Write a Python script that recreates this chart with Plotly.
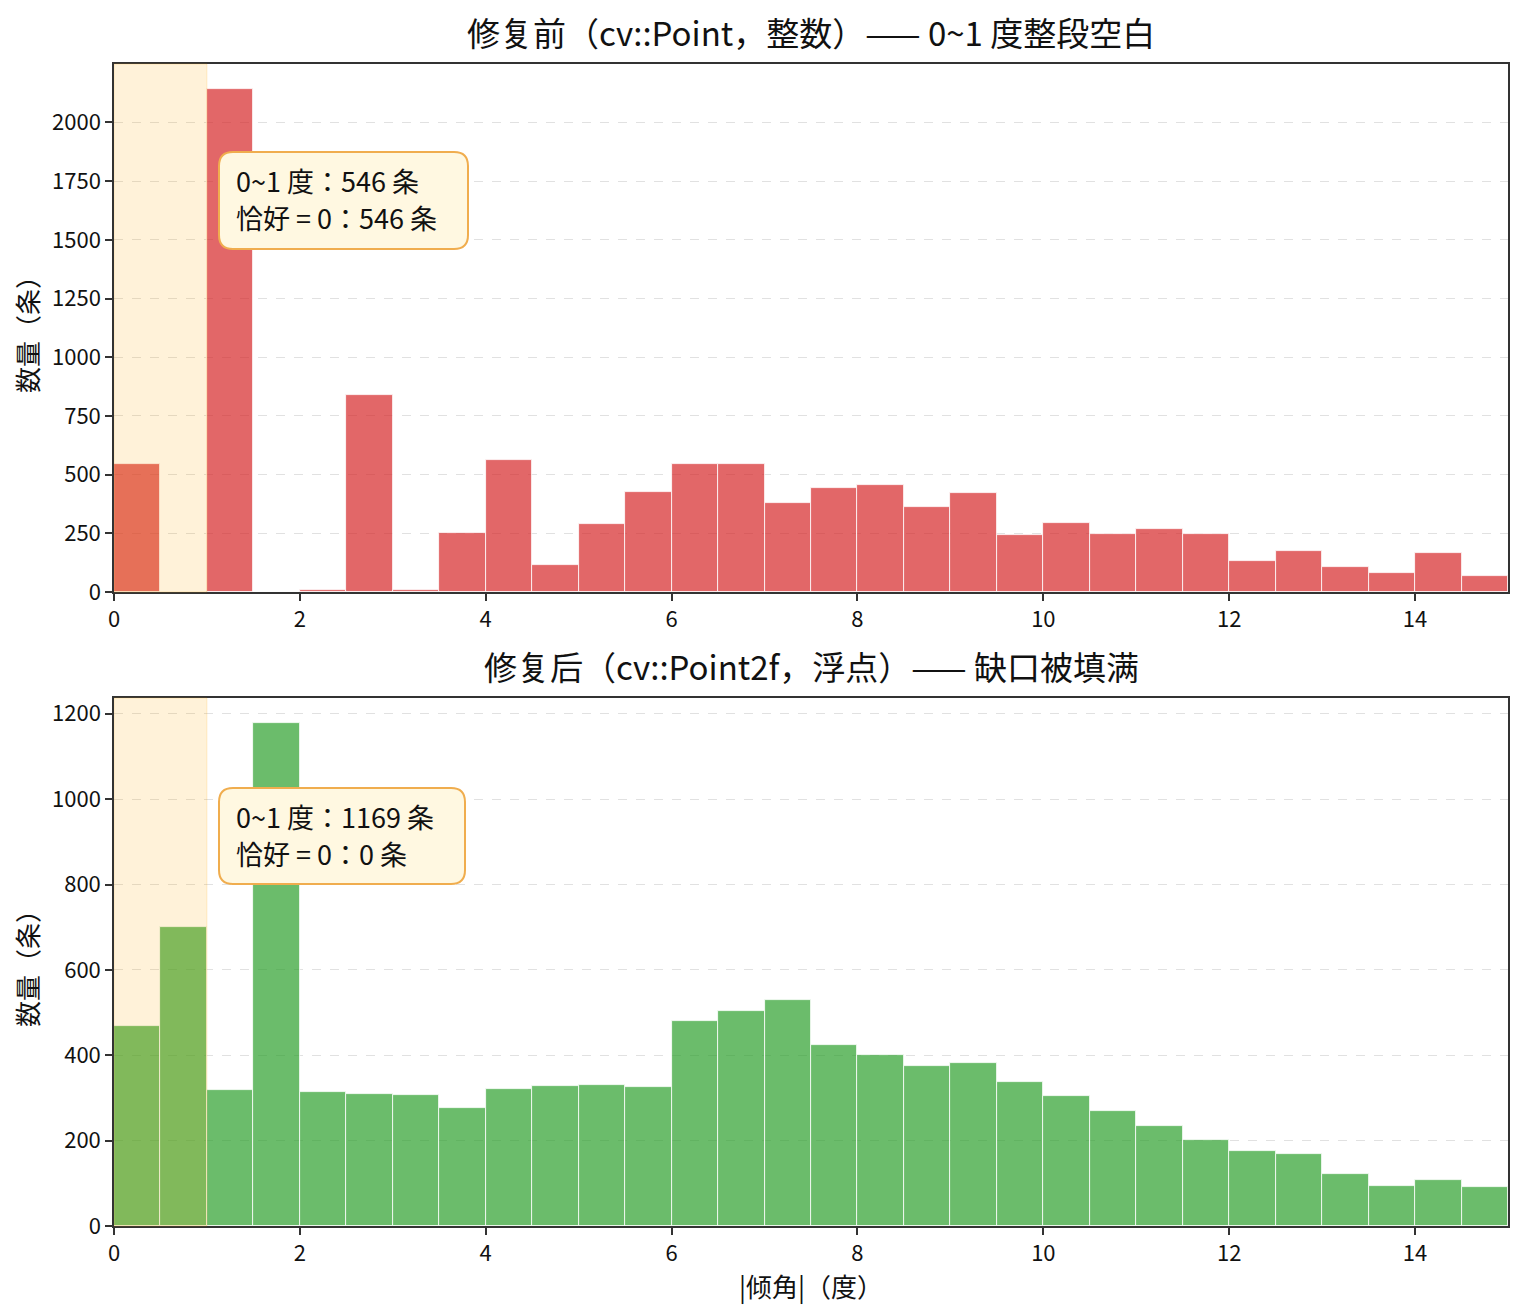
import numpy as np
import plotly.graph_objects as go
from plotly.subplots import make_subplots

# bins of 0.5 degree, 0 .. 15
bin_edges = np.arange(0, 15.5, 0.5)

before_counts = [546, 0, 2142, 0, 9, 840, 9, 251, 562, 114,
                 288, 425, 547, 547, 378, 442, 454, 361, 420, 242,
                 293, 246, 268, 246, 131, 174, 106, 80, 165, 68]
after_counts = [468, 701, 319, 1178, 313, 310, 308, 276, 322, 327,
                330, 325, 480, 504, 530, 424, 401, 375, 382, 337,
                304, 269, 234, 201, 175, 168, 121, 93, 107, 91]

titles = ["修复前（cv::Point，整数）—— 0~1 度整段空白",
          "修复后（cv::Point2f，浮点）—— 缺口被填满"]
notes = [["0~1 度：546 条", "恰好 = 0：546 条"],
         ["0~1 度：1169 条", "恰好 = 0：0 条"]]
x_ticks = [0, 2, 4, 6, 8, 10, 12, 14]
y_ticks_before = [0, 250, 500, 750, 1000, 1250, 1500, 1750, 2000]
y_ticks_after = [0, 200, 400, 600, 800, 1000, 1200]

FONT = "Noto Sans CJK JP"
W, H = 1522, 1316
# the page body has an 8px margin, so pull the plot up/left by that much
ML, MR, MT, MB = 106, 22, 56, 98
plot_h = H - MT - MB
ax_h = 528
gap = plot_h - 2 * ax_h

fig = make_subplots(rows=2, cols=1, vertical_spacing=gap / plot_h)

centers = (bin_edges[:-1] + bin_edges[1:]) / 2
widths = np.diff(bin_edges)

fig.add_trace(go.Bar(x=centers, y=before_counts, width=widths,
                     marker=dict(color="rgba(214,39,40,0.7)",
                                 line=dict(color="white", width=0.8)),
                     showlegend=False), row=1, col=1)
fig.add_trace(go.Bar(x=centers, y=after_counts, width=widths,
                     marker=dict(color="rgba(44,160,44,0.7)",
                                 line=dict(color="white", width=0.8)),
                     showlegend=False), row=2, col=1)

axis_style = dict(showline=True, linecolor="#333333", linewidth=1.5, mirror=True,
                  ticks="outside", ticklen=7, tickwidth=1.5, tickcolor="#333333",
                  tickfont=dict(family=FONT, size=22, color="#111111"),
                  zeroline=False, automargin=False)

for r, (counts, yt) in enumerate([(before_counts, y_ticks_before),
                                   (after_counts, y_ticks_after)], start=1):
    fig.update_xaxes(range=[0, 15], tickvals=x_ticks, showgrid=False,
                     row=r, col=1, **axis_style)
    fig.update_yaxes(range=[0, max(counts) * 1.05], tickvals=yt,
                     showgrid=True, gridcolor="#e1e1e1", gridwidth=1, griddash="dash",
                     title=dict(text="数量（条）", font=dict(family=FONT, size=26, color="#111111"),
                                standoff=19),
                     row=r, col=1, **axis_style)

fig.update_xaxes(title=dict(text="|倾角|（度）", font=dict(family=FONT, size=26, color="#111111"),
                            standoff=8), row=2, col=1)

# 0~1 degree band, drawn above the bars like axvspan
for xr, yr in [("x", "y domain"), ("x2", "y2 domain")]:
    fig.add_shape(type="rect", xref=xr, yref=yr, x0=0, x1=1, y0=0, y1=1,
                  fillcolor="rgba(255,165,0,0.15)",
                  line=dict(color="rgba(255,165,0,0.18)", width=1), layer="above")


def rounded_box(x0, y0, x1, y1, rx, ry):
    return (f"M {x0 + rx},{y0} L {x1 - rx},{y0} Q {x1},{y0} {x1},{y0 + ry} "
            f"L {x1},{y1 - ry} Q {x1},{y1} {x1 - rx},{y1} "
            f"L {x0 + rx},{y1} Q {x0},{y1} {x0},{y1 - ry} "
            f"L {x0},{y0 + ry} Q {x0},{y0} {x0 + rx},{y0} Z")


ax_w = W - ML - MR
# box pixel extents relative to the axes (left, top, right, bottom from axes top-left)
boxes = [(105, 88, 354, 185), (105, 90, 351, 186)]
line_pos = [(116, 153), (118, 155)]
for i, (xr, yr) in enumerate([("x domain", "y domain"), ("x2 domain", "y2 domain")]):
    l, t, rgt, b = boxes[i]
    x0, x1 = l / ax_w, rgt / ax_w
    y1, y0 = 1 - t / ax_h, 1 - b / ax_h
    fig.add_shape(type="path", xref=xr, yref=yr,
                  path=rounded_box(x0, y0, x1, y1, 14 / ax_w, 14 / ax_h),
                  fillcolor="#fff8e1", line=dict(color="#f0ad4e", width=2), layer="above")
    for txt, py in zip(notes[i], line_pos[i]):
        fig.add_annotation(xref=xr, yref=yr, x=x0 + 16 / ax_w, y=1 - py / ax_h,
                           xanchor="left", yanchor="middle", align="left", showarrow=False,
                           borderpad=0, text=txt,
                           font=dict(family=FONT, size=27, color="#111111"))

# subplot titles
dom_top = [1.0, ax_h / plot_h]
for i, t in enumerate(titles):
    fig.add_annotation(xref="paper", yref="paper", x=0.5, y=dom_top[i],
                       yshift=32, xanchor="center", yanchor="middle", showarrow=False,
                       text=t, font=dict(family=FONT, size=33, color="#111111"))

fig.update_layout(width=W, height=H, margin=dict(l=ML, r=MR, t=MT, b=MB),
                  plot_bgcolor="white", paper_bgcolor="white", bargap=0,
                  font=dict(family=FONT))

fig.write_html("out.html")
